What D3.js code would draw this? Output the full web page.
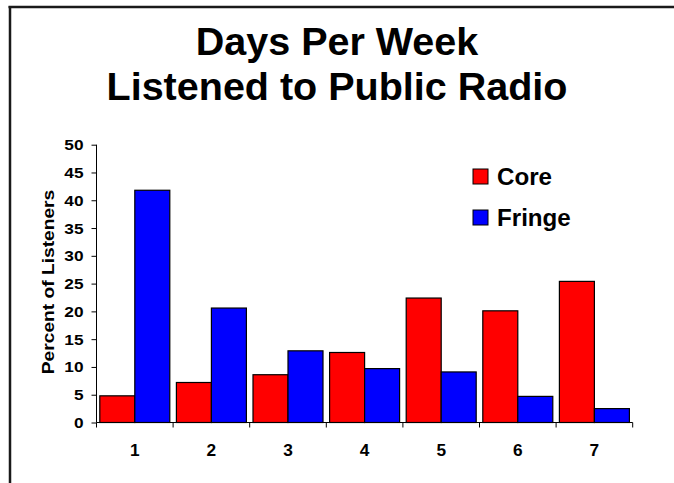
<!DOCTYPE html>
<html>
<head>
<meta charset="utf-8">
<script src="https://cdn.jsdelivr.net/npm/d3@7"></script>
<style>
  html, body { margin: 0; padding: 0; background: #fff; }
  svg { display: block; }
  text { font-family: "Liberation Sans", Arial, sans-serif; font-weight: bold; fill: #000; }
</style>
</head>
<body>
<svg id="chart" width="674" height="483"></svg>
<script>
// ---- data ----
const categories = ["1", "2", "3", "4", "5", "6", "7"];
const seriesNames = ["Core", "Fringe"];
const coreValues = [4.8, 7.2, 8.6, 12.6, 22.4, 20.1, 25.4];
const fringeValues = [41.8, 20.6, 12.9, 9.7, 9.1, 4.7, 2.5];
const yTickValues = [0, 5, 10, 15, 20, 25, 30, 35, 40, 45, 50];
const titleLines = ["Days Per Week", "Listened to Public Radio"];
const yAxisTitle = "Percent of Listeners";
const seriesColors = ["#ff0000", "#0000ff"];

const svg = d3.select("#chart");

// stretched bold text helper
function stext(x, y, txt, size, anchor, sx, rot) {
  return svg.append("text")
    .attr("transform", `translate(${x},${y}) rotate(${rot || 0}) scale(${sx},1)`)
    .attr("text-anchor", anchor)
    .style("font-size", size + "px")
    .text(txt);
}

// frame (slide border)
svg.append("line").attr("x1", 8.5).attr("x2", 674).attr("y1", 7).attr("y2", 7)
  .attr("stroke", "#1a1a1a").attr("stroke-width", 2.5);
svg.append("line").attr("x1", 10).attr("x2", 10).attr("y1", 6).attr("y2", 483)
  .attr("stroke", "#1a1a1a").attr("stroke-width", 2.5);

// title
stext(337, 55, titleLines[0], 38, "middle", 1.04);
stext(337, 100, titleLines[1], 38, "middle", 1.04);

// scales
const plotLeft = 96.5, plotRight = 632.7, plotTop = 144.7, plotBottom = 422.5;
const x0 = d3.scaleBand().domain(categories).range([plotLeft, plotRight]).padding(0);
const x1 = d3.scaleBand().domain(seriesNames).range([3.3, x0.bandwidth() - 3.3]).padding(0);
const y = d3.scaleLinear().domain([0, 50]).range([plotBottom, plotTop]);

const rows = categories.map((c, i) => ({ cat: c, values: [coreValues[i], fringeValues[i]] }));

// bars
const groups = svg.append("g").selectAll("g").data(rows).join("g")
  .attr("transform", d => `translate(${x0(d.cat)},0)`);
groups.selectAll("rect")
  .data(d => d.values.map((v, k) => ({ name: seriesNames[k], v, k })))
  .join("rect")
  .attr("x", d => x1(d.name))
  .attr("width", x1.bandwidth())
  .attr("y", d => y(d.v))
  .attr("height", d => y(0) - y(d.v))
  .attr("fill", d => seriesColors[d.k])
  .attr("stroke", "#000")
  .attr("stroke-width", 1.2);

// y axis
const yAxis = d3.axisLeft(y).tickValues(yTickValues).tickSize(5).tickFormat("");
const yg = svg.append("g").attr("transform", `translate(${plotLeft},0)`).call(yAxis);
yg.select(".domain").attr("stroke", "#000").attr("d", `M-0,${plotTop}V${plotBottom}`);
yg.selectAll(".tick line").attr("stroke", "#000");
yTickValues.forEach(t => {
  stext(plotLeft - 13, y(t) + 5.5, String(t), 15, "end", 1.15);
});

// x axis line and boundary ticks
svg.append("line").attr("x1", plotLeft).attr("x2", plotRight)
  .attr("y1", plotBottom).attr("y2", plotBottom).attr("stroke", "#000");
const boundaries = categories.map(c => x0(c)).concat([x0(categories[categories.length - 1]) + x0.bandwidth()]);
svg.append("g").selectAll("line").data(boundaries).join("line")
  .attr("x1", d => d).attr("x2", d => d)
  .attr("y1", plotBottom).attr("y2", plotBottom + 5)
  .attr("stroke", "#000");
categories.forEach(c => {
  stext(x0(c) + x0.bandwidth() / 2, 455.5, c, 16, "middle", 1.08);
});

// y axis title
stext(53.5, 282, yAxisTitle, 16, "middle", 1.2, -90);

// legend
const legendX = 473, legendY = [169, 210];
seriesNames.forEach((n, k) => {
  svg.append("rect").attr("x", legendX).attr("y", legendY[k])
    .attr("width", 15).attr("height", 15)
    .attr("fill", seriesColors[k]).attr("stroke", "#000").attr("stroke-width", 1);
  stext(legendX + 24, legendY[k] + 16, n, 23, "start", 1.05);
});
</script>
</body>
</html>
